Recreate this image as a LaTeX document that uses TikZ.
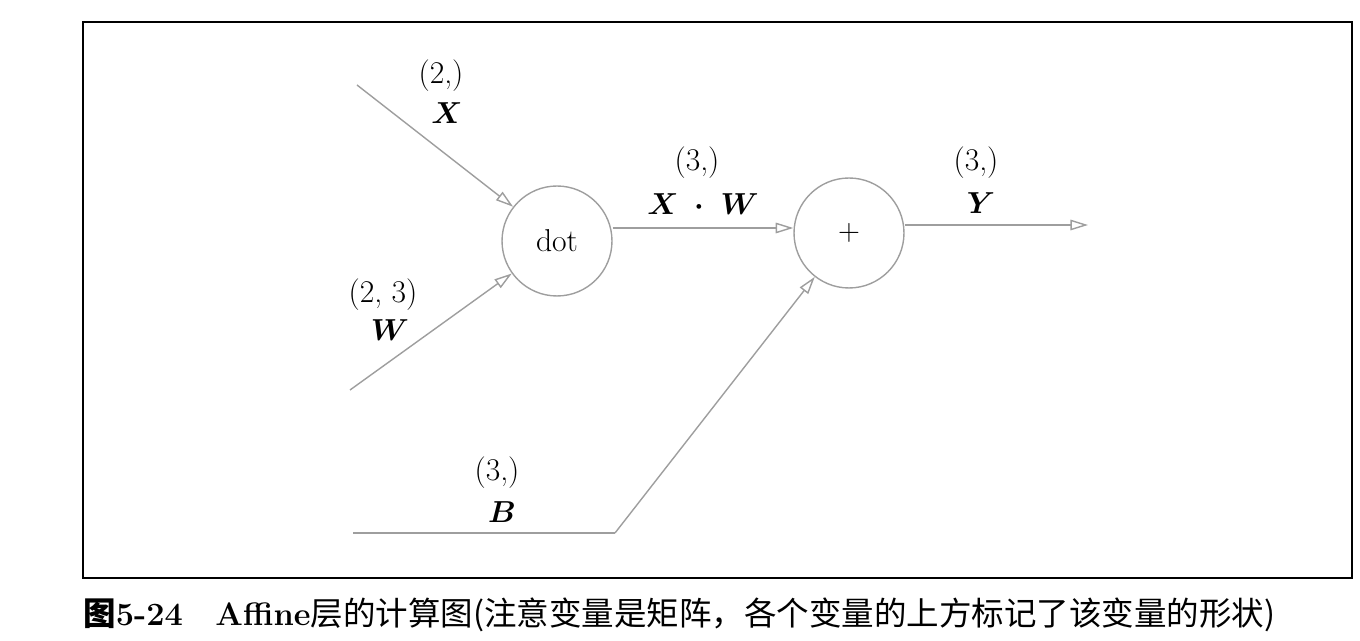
\documentclass[tikz,border=0pt]{standalone}
\usepackage{fontspec}
\usepackage{amsmath,bm}
\newfontfamily\cjk{Noto Sans CJK SC}
\usetikzlibrary{arrows.meta}
\begin{document}
\begin{tikzpicture}[x=0.02cm,y=-0.02cm,
  edge/.style={draw=black!38,line width=0.8pt,-{Triangle[open,length=10pt,width=6pt]}},
  plain/.style={draw=black!38,line width=0.8pt},
  op/.style={circle,draw=black!38,line width=0.8pt,minimum size=2.2cm,inner sep=0pt,font=\fontsize{18}{21}\selectfont},
  lab/.style={font=\fontsize{18}{21}\selectfont,inner sep=0pt}]
\useasboundingbox (0,0) rectangle (1360,641);
\draw[line width=0.9pt] (83,22) rectangle (1352,578);
\node[op] (dot) at (557,241) {dot};
\node[op] (plus) at (849,233) {$+$};
\coordinate (xs) at (357,85);
\coordinate (ws) at (350,390);
\coordinate (bs) at (353,533);
\coordinate (bk) at (615,533);
\coordinate (ye) at (1088,225);
\draw[edge] (xs) -- (dot);
\draw[edge] (ws) -- (dot);
\draw[edge] (dot.east |- 0,228) -- (plus.west |- 0,228);
\draw[edge] (plus.east |- 0,225) -- (ye);
\draw[plain] (bs) -- (bk);
\draw[edge] (bk) -- (plus);
\node[lab] (l1) at (441,76) {(2,)};
\node[lab] (l2) at (447,113) {$\bm{X}$};
\node[lab] (l3) at (383,295) {(2, 3)};
\node[lab] (l4) at (390,330) {$\bm{W}$};
\node[lab] (l5) at (697,163) {(3,)};
\node[lab] (l6) at (703,204) {$\bm{X}\ \bm{\cdot}\ \bm{W}$};
\node[lab] (l7) at (976,163) {(3,)};
\node[lab] (l8) at (981,203) {$\bm{Y}$};
\node[lab] (l9) at (497,473) {(3,)};
\node[lab] (l10) at (502,512) {$\bm{B}$};
\node[anchor=west,inner sep=0pt,font=\fontsize{18.5}{21}\selectfont] (cap) at (83,615) {{\cjk\bfseries 图}\textbf{5-24}\quad\textbf{Affine}{\cjk 层的计算图(注意变量是矩阵，各个变量的上方标记了该变量的形状)}};
\end{tikzpicture}
\end{document}
